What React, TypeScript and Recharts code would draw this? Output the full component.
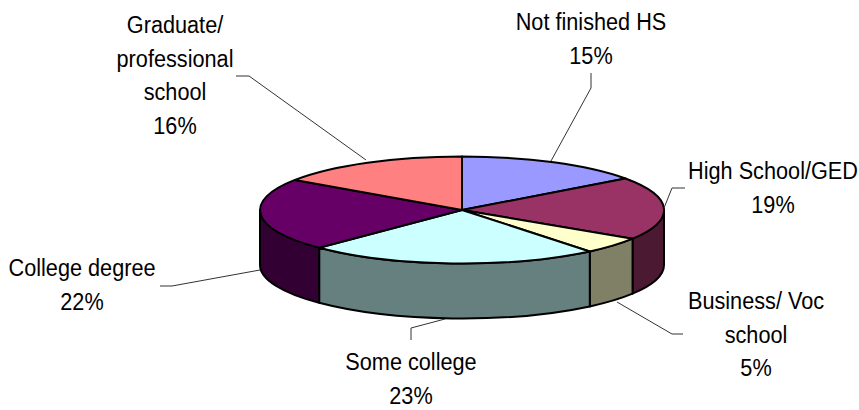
import { PieChart, Pie, Cell } from "recharts";

const categories = [
  "Not finished HS",
  "High School/GED",
  "Business/ Voc school",
  "Some college",
  "College degree",
  "Graduate/ professional school",
];
// the labels round these
const shares = [15, 19, 5.1, 23.4, 22, 15.5];
const topColors = ["#9999FF", "#993366", "#FFFFCC", "#CCFFFF", "#660066", "#FF8080"];
const wallColors = ["#4C4C80", "#4C1933", "#808066", "#668080", "#330033", "#804040"];

// wrapped label text, the picture breaks these by hand
const labelLines = [
  ["Not finished HS"],
  ["High School/GED"],
  ["Business/ Voc", "school"],
  ["Some college"],
  ["College degree"],
  ["Graduate/", "professional", "school"],
];

// label centre x, first baseline, leader line points
const labelLayout = [
  { x: 591, y: 30, leader: "551,161 591,88 591,73" },
  { x: 773, y: 179, leader: "664,208 672,188 685,188" },
  { x: 756, y: 309, leader: "617,302 672,334 683,334" },
  { x: 411, y: 370, leader: "445,319 411,328 411,340" },
  { x: 82, y: 276, leader: "260,270 172,286 160,286" },
  { x: 175, y: 33, leader: "366,160 249,76 236,76" },
];

const WIDTH = 859;
const HEIGHT = 410;
const SQUASH = 53.5 / 202; // ellipse ratio of the tilted pie
const DEPTH = 55;
const LINE_GAP = 33.6;
const TEXT_STRETCH = 1.12; // the source text is a bit taller than Arial

const data = categories.map((name, i) => ({ name, value: shares[i] }));

function Slice(props: any) {
  const { cx, cy, outerRadius: r, startAngle, endAngle, index } = props;
  const ry = r * SQUASH;
  const pt = (deg: number, dy = 0) => {
    const a = (deg * Math.PI) / 180;
    return `${cx + r * Math.cos(a)} ${cy - ry * Math.sin(a) + dy}`;
  };
  const large = Math.abs(startAngle - endAngle) > 180 ? 1 : 0;
  const top = `M${cx} ${cy} L${pt(startAngle)} A${r} ${ry} 0 ${large} 1 ${pt(endAngle)} Z`;

  // angles run 90 to -270, only -180..0 faces the viewer
  const hi = Math.min(startAngle, 0);
  const lo = Math.max(endAngle, -180);
  const wall =
    hi > lo
      ? `M${pt(hi)} A${r} ${ry} 0 0 1 ${pt(lo)} L${pt(lo, DEPTH)} A${r} ${ry} 0 0 0 ${pt(hi, DEPTH)} Z`
      : null;

  return (
    <g>
      {wall && <path d={wall} fill={wallColors[index]} stroke="#000" strokeWidth={2} strokeLinejoin="round" />}
      <path d={top} fill={topColors[index]} stroke="#000" strokeWidth={2} strokeLinejoin="round" />
    </g>
  );
}

function SliceLabel(props: any) {
  const { index, value } = props;
  const spot = labelLayout[index];
  const lines = [...labelLines[index], `${Math.round(value)}%`];
  return (
    <g>
      <polyline points={spot.leader} fill="none" stroke="#333" strokeWidth={1} />
      {lines.map((line, i) => (
        <text
          key={i}
          transform={`translate(${spot.x} ${spot.y + i * LINE_GAP}) scale(1 ${TEXT_STRETCH})`}
          textAnchor="middle"
          fontFamily='"Liberation Sans", Arial, sans-serif'
          fontSize={21.7}
          fill="#000"
        >
          {line}
        </text>
      ))}
    </g>
  );
}

export default function App() {
  return (
    <div style={{ position: "absolute", left: 0, top: 0, width: WIDTH, height: HEIGHT, background: "#fff" }}>
      <PieChart width={WIDTH} height={HEIGHT} margin={{ top: 0, right: 0, bottom: 0, left: 0 }}>
        <Pie
          data={data}
          dataKey="value"
          nameKey="name"
          cx={462}
          cy={210}
          innerRadius={0}
          outerRadius={202}
          startAngle={90}
          endAngle={-270}
          paddingAngle={0}
          shape={Slice}
          label={SliceLabel}
          labelLine={false}
          isAnimationActive={false}
        >
          {data.map((d, i) => (
            <Cell key={d.name} fill={topColors[i]} />
          ))}
        </Pie>
      </PieChart>
    </div>
  );
}
